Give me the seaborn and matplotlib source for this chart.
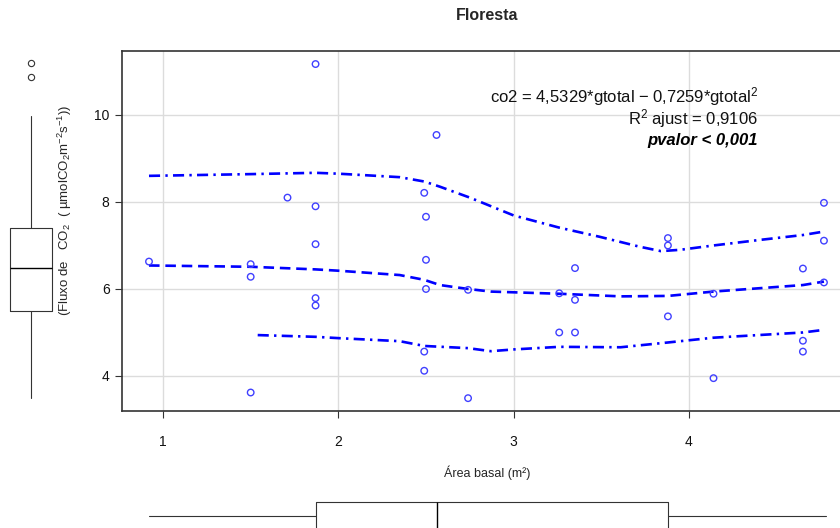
import numpy as np
import pandas as pd
import matplotlib
matplotlib.use("Agg")
import matplotlib.pyplot as plt
import seaborn as sns

# ---------------- data ----------------
area_basal = [0.92, 1.50, 1.50, 1.50, 1.71, 1.87, 1.87, 1.87, 1.87, 1.87,
              2.56, 2.49, 2.50, 2.50, 2.50, 2.49, 2.49, 2.74, 2.74,
              3.26, 3.35, 3.35, 3.26, 3.35, 3.88, 3.88, 3.88, 4.14, 4.14,
              4.65, 4.65, 4.65, 4.77, 4.77, 4.77]
fluxo_co2 = [6.63, 6.57, 6.28, 3.62, 8.10, 11.17, 7.90, 7.03, 5.79, 5.62,
             9.54, 8.21, 7.66, 6.67, 6.00, 4.56, 4.12, 5.98, 3.49,
             5.90, 6.48, 5.75, 5.00, 5.00, 7.17, 7.00, 5.37, 5.89, 3.95,
             6.47, 4.81, 4.56, 7.98, 7.11, 6.15]

# smoother (middle) and spread lines
mid_x = [0.92, 1.50, 1.87, 2.00, 2.35, 2.49, 2.58, 2.74, 2.87, 3.26, 3.61, 3.88, 4.14, 4.65, 4.77]
mid_y = [6.54, 6.51, 6.45, 6.42, 6.32, 6.21, 6.09, 6.00, 5.94, 5.89, 5.83, 5.84, 5.94, 6.09, 6.17]
up_x = [0.92, 1.50, 1.87, 2.00, 2.35, 2.49, 2.58, 2.75, 3.00, 3.26, 3.49, 3.72, 3.84, 3.95, 4.14, 4.41, 4.65, 4.77]
up_y = [8.60, 8.64, 8.67, 8.65, 8.57, 8.47, 8.35, 8.10, 7.69, 7.41, 7.20, 6.97, 6.87, 6.90, 7.00, 7.13, 7.24, 7.32]
lo_x = [1.54, 1.87, 2.00, 2.35, 2.49, 2.74, 2.87, 3.00, 3.26, 3.61, 3.88, 4.14, 4.65, 4.77]
lo_y = [4.94, 4.90, 4.87, 4.80, 4.69, 4.64, 4.57, 4.61, 4.67, 4.66, 4.77, 4.88, 5.00, 5.06]

# marginal boxplot statistics
y_box = dict(whislo=3.49, q1=5.49, med=6.48, q3=7.40, whishi=9.98, fliers=[10.87, 11.20])
x_box = dict(whislo=0.92, q1=1.87, med=2.56, q3=3.88, whishi=4.78, fliers=[])

x_ticks = [1, 2, 3, 4]
y_ticks = [4, 6, 8, 10]

title = "Floresta"
x_label = "Área basal (m²)"
y_label = r"(Fluxo de   CO$_2$  ( µmolCO$_2$m$^{-2}$s$^{-1}$))"
eq_lines = ["co2 = 4,5329*gtotal − 0,7259*gtotal$^2$",
            "R$^2$ ajust = 0,9106",
            "pvalor < 0,001"]

# ---------------- style ----------------
sns.set_theme(style="white")
plt.rcParams['font.family'] = ['Liberation Sans', 'DejaVu Sans']
plt.rcParams['mathtext.fontset'] = 'custom'
plt.rcParams['mathtext.rm'] = 'Liberation Sans'
plt.rcParams['mathtext.it'] = 'Liberation Sans:italic'
plt.rcParams['mathtext.bf'] = 'Liberation Sans:bold'

W, H = 840, 528
fig = plt.figure(figsize=(W / 100, H / 100), dpi=100)

def px_axes(x0, y0, x1, y1):
    return fig.add_axes([x0 / W, 1 - y1 / H, (x1 - x0) / W, (y1 - y0) / H])

XLIM = (0.766, 4.93)
YLIM = (3.195, 11.47)

ax = px_axes(122, 51, 852, 411)
ax.set_xlim(*XLIM)
ax.set_ylim(*YLIM)
ax.set_xticks(x_ticks)
ax.set_yticks(y_ticks)
ax.grid(True, color="#dcdcdc", lw=1.0)
ax.set_axisbelow(True)
for s in ax.spines.values():
    s.set_color("#333333")
    s.set_linewidth(1.2)
ax.tick_params(axis="both", which="both", direction="out", length=5, width=0.8,
               color="#333333", labelsize=10, labelcolor="#111111")
ax.tick_params(axis="x", pad=12, bottom=True)
ax.tick_params(axis="y", pad=4, left=True)

blue = "#0000ff"
sns.lineplot(x=up_x, y=up_y, ax=ax, color=blue, lw=1.9, estimator=None, sort=False,
             linestyle=(0, (4.2, 2.0, 0.9, 2.0)))
sns.lineplot(x=mid_x, y=mid_y, ax=ax, color=blue, lw=1.9, estimator=None, sort=False,
             linestyle=(0, (4.0, 2.2)))
sns.lineplot(x=lo_x, y=lo_y, ax=ax, color=blue, lw=1.9, estimator=None, sort=False,
             linestyle=(0, (4.2, 2.0, 0.9, 2.0)))

sns.scatterplot(x=area_basal, y=fluxo_co2, ax=ax, marker="o", s=22,
                facecolors="none", edgecolor="#4040ff", linewidth=1.0, zorder=3)
ax.set_xlabel("")
ax.set_ylabel("")

# annotation
fig.text(758 / W, 1 - 97 / H, eq_lines[0], ha="right", va="center", fontsize=12, color="#111111")
fig.text(758 / W, 1 - 119 / H, eq_lines[1], ha="right", va="center", fontsize=12, color="#111111")
fig.text(758 / W, 1 - 141 / H, eq_lines[2], ha="right", va="center", fontsize=12,
         fontweight="bold", fontstyle="italic", color="#000000")

# title and labels
fig.text(487 / W, 1 - 16 / H, title, ha="center", va="center", fontsize=11.5, fontweight="bold")
fig.text(487 / W, 1 - 473 / H, x_label, ha="center", va="center", fontsize=9)
fig.text(65 / W, 1 - 210 / H, y_label, ha="center", va="center", rotation=90, fontsize=9.5)

# left marginal boxplot
axl = px_axes(0, 51, 62, 411)
axl.set_ylim(*YLIM)
axl.set_xlim(-0.5, 0.5)
axl.bxp([y_box], positions=[0], widths=42 / 62, vert=True, showfliers=True,
        boxprops=dict(color="#333333", lw=0.8),
        whiskerprops=dict(color="#333333", lw=0.8),
        capprops=dict(lw=0),
        medianprops=dict(color="#000000", lw=1.0),
        flierprops=dict(marker="o", markerfacecolor="none", markeredgecolor="#333333",
                        markersize=4.5, markeredgewidth=0.8))
axl.axis("off")

# bottom marginal boxplot
axb = px_axes(122, 489, 852, 542)
axb.set_xlim(*XLIM)
axb.set_ylim(-0.5, 0.5)
axb.bxp([x_box], positions=[0], widths=27 / 53, vert=False, showfliers=False,
        boxprops=dict(color="#333333", lw=0.8),
        whiskerprops=dict(color="#333333", lw=0.8),
        capprops=dict(lw=0),
        medianprops=dict(color="#000000", lw=1.0))
axb.axis("off")

fig.savefig("out.png", dpi=100)
